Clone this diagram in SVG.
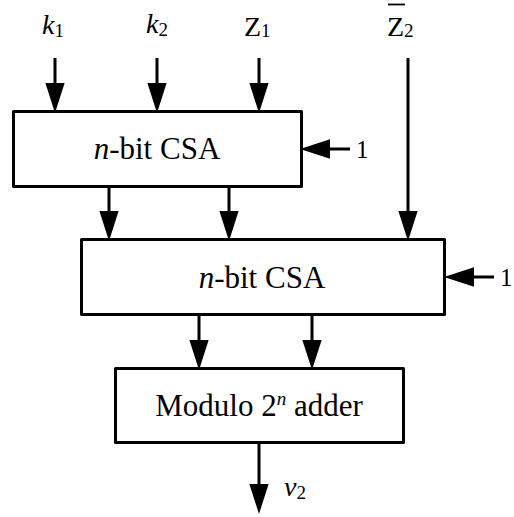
<svg xmlns="http://www.w3.org/2000/svg" width="514" height="517" viewBox="0 0 514 517">
<style>
.box{fill:#fff;stroke:#000;stroke-width:3;stroke-linejoin:round}
.ln{stroke:#000;stroke-width:3;fill:none}
text{font-family:"Liberation Serif","Times New Roman",serif;fill:#000}
.lbl{font-size:28px}
.one{font-size:25px}
.sub{font-size:19px}
.sup{font-size:19px}
.big{font-size:31px}
.it{font-style:italic}
</style>
<defs>
<marker id="ah" markerUnits="userSpaceOnUse" markerWidth="30" markerHeight="20" refX="0" refY="9" orient="auto" viewBox="0 0 28 18">
<path d="M0,0 L28,9 L0,18 z" fill="#000"/>
</marker>
</defs>
<g id="connectors">
<line class="ln" x1="55" y1="58" x2="55" y2="83" marker-end="url(#ah)"/>
<line class="ln" x1="157" y1="58" x2="157" y2="83" marker-end="url(#ah)"/>
<line class="ln" x1="259" y1="58" x2="259" y2="83" marker-end="url(#ah)"/>
<line class="ln" x1="408" y1="58" x2="408" y2="211" marker-end="url(#ah)"/>
<line class="ln" x1="109" y1="187" x2="109" y2="211" marker-end="url(#ah)"/>
<line class="ln" x1="229" y1="187" x2="229" y2="211" marker-end="url(#ah)"/>
<line class="ln" x1="350" y1="149" x2="330" y2="149" marker-end="url(#ah)"/>
<line class="ln" x1="494" y1="277" x2="474" y2="277" marker-end="url(#ah)"/>
<line class="ln" x1="199" y1="315" x2="199" y2="340" marker-end="url(#ah)"/>
<line class="ln" x1="312" y1="315" x2="312" y2="340" marker-end="url(#ah)"/>
<line class="ln" x1="259" y1="443" x2="259" y2="484" marker-end="url(#ah)"/>
</g>
<g id="label-k1"><text class="lbl" x="42" y="34"><tspan class="it">k</tspan><tspan class="sub" dy="3">1</tspan></text></g>
<g id="label-k2"><text class="lbl" x="146" y="33"><tspan class="it">k</tspan><tspan class="sub" dy="3">2</tspan></text></g>
<g id="label-z1"><text class="lbl" x="244" y="36"><tspan>Z</tspan><tspan class="sub" dy="1">1</tspan></text></g>
<g id="label-z2"><text class="lbl" x="387" y="36"><tspan>Z</tspan><tspan class="sub" dy="1">2</tspan></text><line x1="388" y1="4.5" x2="405" y2="4.5" stroke="#000" stroke-width="1.8"/></g>
<g id="csa1">
<rect class="box" x="13.5" y="111.5" width="288" height="75"/>
<text class="big" x="157" y="159" text-anchor="middle"><tspan class="it">n</tspan>-bit CSA</text>
</g>
<g id="one1"><text class="one" x="356" y="158">1</text></g>
<g id="csa2">
<rect class="box" x="81.5" y="239.5" width="363" height="75"/>
<text class="big" x="262" y="288" text-anchor="middle"><tspan class="it">n</tspan>-bit CSA</text>
</g>
<g id="one2"><text class="one" x="500" y="286">1</text></g>
<g id="adder">
<rect class="box" x="115.5" y="368.5" width="288" height="74"/>
<text class="big" x="259" y="416" text-anchor="middle">Modulo 2<tspan class="it sup" dy="-11">n</tspan><tspan dy="11"> adder</tspan></text>
</g>
<g id="label-v2"><text class="lbl" x="284" y="496"><tspan class="it">v</tspan><tspan class="sub" dy="3">2</tspan></text></g>
</svg>
